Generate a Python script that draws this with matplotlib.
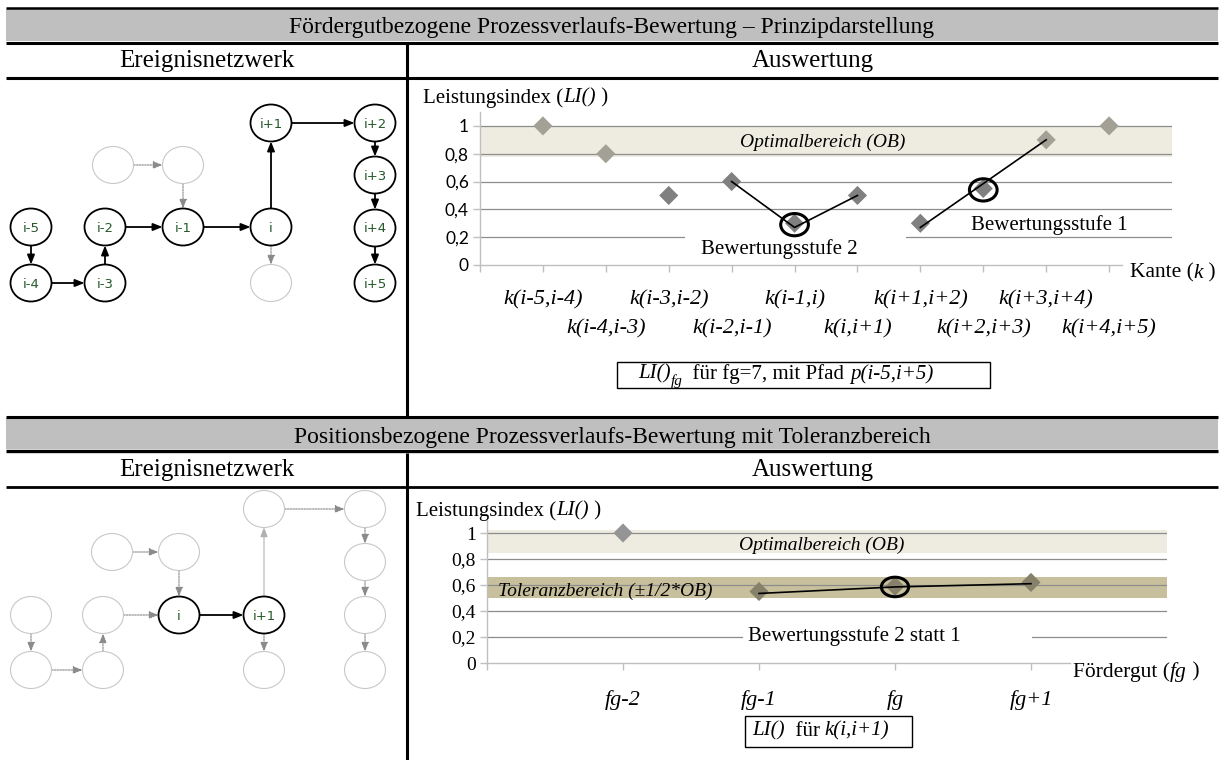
import matplotlib
matplotlib.use("Agg")
import matplotlib.pyplot as plt
from matplotlib.patches import Ellipse, Rectangle
from matplotlib.transforms import blended_transform_factory

W, H = 1226, 760
plt.rcParams.update({"font.family": "Liberation Serif", "font.size": 15})

# ---- data: Fördergutbezogene Bewertung (fg=7, Pfad p(i-5,i+5)) ----
KANTEN = ["k(i-5,i-4)", "k(i-4,i-3)", "k(i-3,i-2)", "k(i-2,i-1)", "k(i-1,i)",
          "k(i,i+1)", "k(i+1,i+2)", "k(i+2,i+3)", "k(i+3,i+4)", "k(i+4,i+5)"]
LI_FG = [1.0, 0.8, 0.5, 0.6, 0.3, 0.5, 0.3, 0.55, 0.9, 1.0]
STUFE2_IDX, STUFE2_LI = [3, 4, 5], [0.6, 0.27, 0.5]
STUFE1_IDX, STUFE1_LI = [6, 8], [0.27, 0.9]
MARK_FG = [4, 7]
OB_FG = (0.78, 1.0)

# ---- data: Positionsbezogene Bewertung für k(i,i+1) ----
FOERDERGUT = ["fg-2", "fg-1", "fg", "fg+1"]
LI_K = [1.0, 0.55, 0.59, 0.62]
TREND_IDX, TREND_LI = [1, 2, 3], [0.535, 0.585, 0.61]
MARK_K = [2]
OB_K = (0.845, 1.02)
TB_K = (0.50, 0.66)

YTICKS = [0, 0.2, 0.4, 0.6, 0.8, 1]
YTICKLABELS = ["0", "0,2", "0,4", "0,6", "0,8", "1"]

GREEN = "#24592a"
GRID = "#8c8c8c"
AXC = "#bfbfbf"

fig = plt.figure(figsize=(W / 100, H / 100), dpi=100)
bg = fig.add_axes([0, 0, 1, 1])
bg.set_xlim(0, W)
bg.set_ylim(H, 0)
bg.axis("off")


def px_axes(l, t, r, b):
    return fig.add_axes([l / W, 1 - b / H, (r - l) / W, (b - t) / H])


def rich(ax, x, y, parts, size, transform=None, zorder=6):
    # consecutive text pieces (normal / italic / subscript)
    transform = transform or ax.transData
    base = prev = ax.text(x, y, parts[0][0], fontsize=size, fontstyle=parts[0][1],
                          ha="left", va="center", transform=transform, zorder=zorder)
    for part in parts[1:]:
        s, st = part[0], part[1]
        fs = part[2] if len(part) > 2 else size
        dy = part[3] if len(part) > 3 else 0
        t = ax.annotate(s, xy=(1, 0), xycoords=(prev, base), xytext=(0, dy),
                        textcoords="offset points", fontsize=fs, fontstyle=st,
                        ha="left", va="bottom", zorder=zorder, annotation_clip=False)
        if dy == 0:
            base = t
        prev = t


# ---- table frame ----
for y0, y1 in [(9, 41), (418, 449)]:
    bg.add_patch(Rectangle((6, y0), 1212, y1 - y0, fc="#bfbfbf", ec="none"))
bg.plot([6, 1218], [8, 8], color="k", lw=1.8, solid_capstyle="butt")
for y, lw in [(42.5, 2.2), (77.5, 2.2), (416.5, 2.2), (451, 2.4), (487, 2.0)]:
    bg.plot([6, 1218], [y, y], color="k", lw=lw, solid_capstyle="butt")
bg.plot([407, 407], [44, 416], color="k", lw=2.2, solid_capstyle="butt")
bg.plot([407, 407], [453, 760], color="k", lw=2.2, solid_capstyle="butt")

bg.text(612, 33, "Fördergutbezogene Prozessverlaufs-Bewertung – Prinzipdarstellung",
        ha="center", va="baseline", fontsize=17)
bg.text(207, 67, "Ereignisnetzwerk", ha="center", va="baseline", fontsize=18)
bg.text(813, 67, "Auswertung", ha="center", va="baseline", fontsize=18)
bg.text(612, 443, "Positionsbezogene Prozessverlaufs-Bewertung mit Toleranzbereich",
        ha="center", va="baseline", fontsize=17)
bg.text(207, 476, "Ereignisnetzwerk", ha="center", va="baseline", fontsize=18)
bg.text(813, 476, "Auswertung", ha="center", va="baseline", fontsize=18)

# ---- event networks ----
NW, NH = 41, 37


def node(pos, label, solid):
    bg.add_patch(Ellipse(pos, NW, NH, fc="white", ec="black" if solid else "#c8c8c8",
                         lw=1.3 if solid else 0.8, zorder=3))
    if label:
        bg.text(pos[0], pos[1] + 1, label, ha="center", va="center", fontsize=9.5,
                color=GREEN, family="DejaVu Sans", zorder=4)


def edge(p, q, kind):
    (x0, y0), (x1, y1) = p, q
    if abs(x1 - x0) > abs(y1 - y0):
        s = 1 if x1 > x0 else -1
        a, b = (x0 + s * NW / 2, y0), (x1 - s * NW / 2, y1)
    else:
        s = 1 if y1 > y0 else -1
        a, b = (x0, y0 + s * NH / 2), (x1, y1 - s * NH / 2)
    style = {"solid": dict(color="black", lw=1.3, ls="-"),
             "dotted": dict(color="#8a8a8a", lw=0.8, ls=(0, (1.5, 1))),
             "faint": dict(color="#b0b0b0", lw=0.8, ls="-")}[kind]
    bg.annotate("", xy=b, xytext=a, zorder=2,
                arrowprops=dict(arrowstyle="-|>,head_length=0.55,head_width=0.22",
                                shrinkA=0, shrinkB=0, mutation_scale=10, **style))


NET1 = {"i-5": (31, 227), "i-4": (31, 283), "i-3": (105, 283), "i-2": (105, 227),
        "i-1": (183, 227), "i": (271, 227), "i+1": (271, 123), "i+2": (375, 123),
        "i+3": (375, 175), "i+4": (375, 228), "i+5": (375, 283),
        "a": (113, 165), "b": (183, 165), "c": (271, 283)}
NET1_FADED = {"a", "b", "c"}
NET1_EDGES = [("i-5", "i-4", "solid"), ("i-4", "i-3", "solid"), ("i-3", "i-2", "solid"),
              ("i-2", "i-1", "solid"), ("i-1", "i", "solid"), ("i", "i+1", "solid"),
              ("i+1", "i+2", "solid"), ("i+2", "i+3", "solid"), ("i+3", "i+4", "solid"),
              ("i+4", "i+5", "solid"), ("a", "b", "dotted"), ("b", "i-1", "dotted"),
              ("i", "c", "dotted")]

NET2 = {"A": (31, 615), "B": (31, 670), "C": (103, 670), "D": (103, 615),
        "E": (112, 552), "F": (179, 552), "i": (179, 615), "i+1": (264, 615),
        "G": (264, 509), "H": (365, 509), "I": (365, 562), "J": (365, 615),
        "K": (365, 670), "L": (264, 670)}
NET2_SOLID = {"i", "i+1"}
NET2_EDGES = [("A", "B", "dotted"), ("B", "C", "dotted"), ("C", "D", "dotted"),
              ("D", "i", "dotted"), ("E", "F", "dotted"), ("F", "i", "dotted"),
              ("i", "i+1", "solid"), ("i+1", "G", "faint"), ("G", "H", "dotted"),
              ("H", "I", "dotted"), ("I", "J", "dotted"), ("J", "K", "dotted"),
              ("i+1", "L", "dotted")]

for n, pos in NET1.items():
    solid = n not in NET1_FADED
    node(pos, n if solid else None, solid)
for p, q, k in NET1_EDGES:
    edge(NET1[p], NET1[q], k)
for n, pos in NET2.items():
    solid = n in NET2_SOLID
    node(pos, n if solid else None, solid)
for p, q, k in NET2_EDGES:
    edge(NET2[p], NET2[q], k)


# ---- charts ----
def style_chart(ax, nslots, tickfont, ticksize, axis_end):
    ax.set_xlim(0, nslots)
    ax.set_ylim(0, 1.1)
    ax.patch.set_alpha(0)
    for s in ["top", "right"]:
        ax.spines[s].set_visible(False)
    for s in ["left", "bottom"]:
        ax.spines[s].set_color(AXC)
        ax.spines[s].set_linewidth(1.0)
    ax.spines["bottom"].set_bounds(0, axis_end)
    ax.set_xticks(range(nslots))
    ax.set_xticklabels([])
    ax.tick_params(axis="x", length=5, color=AXC, width=1.0)
    ax.set_yticks(YTICKS)
    ax.set_yticklabels(YTICKLABELS, fontfamily=tickfont, fontsize=ticksize)
    ax.tick_params(axis="y", length=5, color=AXC, width=1.0, pad=3)
    for v in YTICKS[1:]:
        ax.axhline(v, color=GRID, lw=0.9, zorder=1)


# top chart
ax1 = px_axes(480, 112, 1172, 265)
style_chart(ax1, len(KANTEN) + 1, "Lato", 12.5, 10.2)
ax1.axhspan(*OB_FG, color="#eeece1", lw=0, zorder=0.5)
x1 = list(range(1, len(KANTEN) + 1))
c1 = ["#a3a195" if OB_FG[0] <= v <= OB_FG[1] else "#808080" for v in LI_FG]
ax1.scatter(x1, LI_FG, marker="D", s=95, c=c1, lw=0, zorder=4)
ax1.plot([x1[i] for i in STUFE2_IDX], STUFE2_LI, color="k", lw=1.2, zorder=4.5)
ax1.plot([x1[i] for i in STUFE1_IDX], STUFE1_LI, color="k", lw=1.2, zorder=4.5)
for i in MARK_FG:
    ax1.add_patch(Ellipse((x1[i], LI_FG[i] - 0.01), 0.44, 0.16, fill=False,
                          ec="k", lw=2.2, zorder=5))
ax1.add_patch(Rectangle((3.26, 0.15), 3.51, 0.1, fc="white", ec="none", zorder=1.5))
ax1.text(5.44, 0.885, "Optimalbereich (OB)", ha="center", va="center",
         fontsize=14, fontstyle="italic", zorder=2)
ax1.text(4.75, 0.115, "Bewertungsstufe 2", ha="center", va="center", fontsize=15, zorder=2)
ax1.text(9.05, 0.285, "Bewertungsstufe 1", ha="center", va="center", fontsize=15, zorder=2)
tr1 = blended_transform_factory(ax1.transData, bg.transData)
for i, lab in enumerate(KANTEN):
    ax1.text(x1[i], 300 if i % 2 == 0 else 329, lab, transform=tr1, ha="center",
             va="center", fontsize=16, fontstyle="italic", clip_on=False)

rich(bg, 423, 98, [("Leistungsindex (", "normal"), ("LI()", "italic"), (" )", "normal")], 15)
rich(bg, 1130, 273, [("Kante (", "normal"), ("k", "italic"), (" )", "normal")], 15.5)
bg.add_patch(Rectangle((617, 362), 373, 26, fill=False, ec="k", lw=1.0))
rich(bg, 638, 374, [("LI()", "italic"), ("fg", "italic", 11, -3),
                    ("  für fg=7, mit Pfad ", "normal"), ("p(i-5,i+5)", "italic")], 15)

# bottom chart
ax2 = px_axes(487, 520, 1167, 663)
style_chart(ax2, len(FOERDERGUT) + 1, "Liberation Serif", 14, 4.29)
ax2.axhspan(*OB_K, color="#eeece1", lw=0, zorder=0.5)
ax2.axhspan(*TB_K, color="#c8c09d", lw=0, zorder=0.5)
x2 = list(range(1, len(FOERDERGUT) + 1))
c2 = ["#87806a" if TB_K[0] <= v <= TB_K[1] else "#949494" for v in LI_K]
ax2.scatter(x2, LI_K, marker="D", s=95, c=c2, lw=0, zorder=4)
ax2.plot([x2[i] for i in TREND_IDX], TREND_LI, color="k", lw=1.2, zorder=4.5)
for i in MARK_K:
    ax2.add_patch(Ellipse((x2[i], LI_K[i] - 0.005), 0.2, 0.15, fill=False,
                          ec="k", lw=2.2, zorder=5))
ax2.add_patch(Rectangle((1.88, 0.15), 2.13, 0.1, fc="white", ec="none", zorder=1.5))
ax2.text(2.46, 0.905, "Optimalbereich (OB)", ha="center", va="center",
         fontsize=14, fontstyle="italic", zorder=2)
ax2.text(0.08, 0.555, "Toleranzbereich (±1/2*OB)", ha="left", va="center",
         fontsize=14, fontstyle="italic", zorder=2)
ax2.text(1.92, 0.21, "Bewertungsstufe 2 statt 1", ha="left", va="center",
         fontsize=15, zorder=2)
tr2 = blended_transform_factory(ax2.transData, bg.transData)
for i, lab in enumerate(FOERDERGUT):
    ax2.text(x2[i], 700, lab, transform=tr2, ha="center", va="center",
             fontsize=16, fontstyle="italic", clip_on=False)

rich(bg, 416, 511, [("Leistungsindex (", "normal"), ("LI()", "italic"), (" )", "normal")], 15)
rich(bg, 1073, 672, [("Fördergut (", "normal"), ("fg", "italic"), (" )", "normal")], 15.5)
bg.add_patch(Rectangle((745, 716), 167, 31, fill=False, ec="k", lw=1.0))
rich(bg, 752, 731, [("LI()", "italic"), ("  für ", "normal"), ("k(i,i+1)", "italic")], 15)

fig.savefig("out.png", dpi=100)
